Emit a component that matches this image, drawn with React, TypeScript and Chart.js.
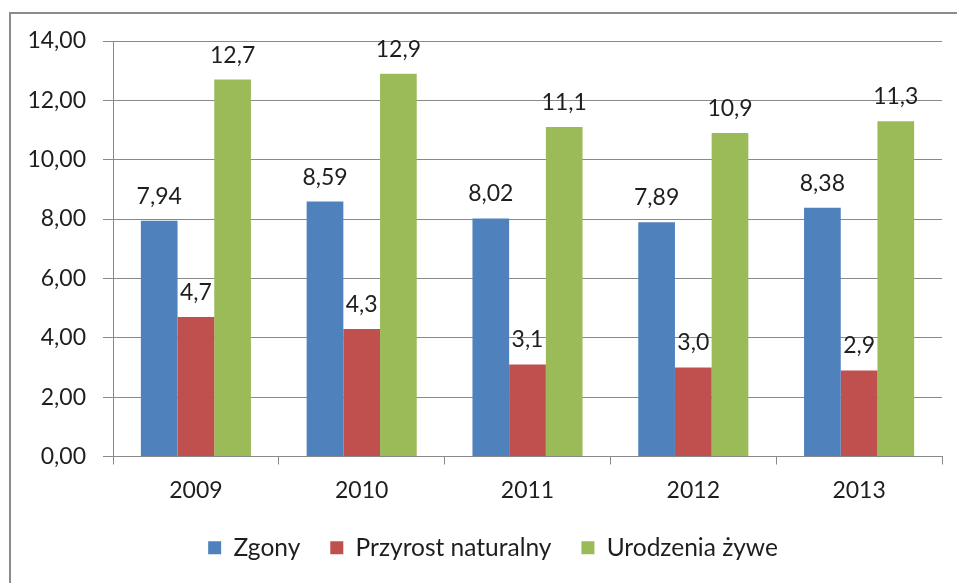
import React, { useEffect, useRef } from "react";
import { Chart, registerables } from "chart.js";

Chart.register(...registerables);

const categories = ["2009", "2010", "2011", "2012", "2013"];
const seriesNames = ["Zgony", "Przyrost naturalny", "Urodzenia żywe"];
const zgony = [7.94, 8.59, 8.02, 7.89, 8.38];
const przyrost = [4.7, 4.3, 3.1, 3.0, 2.9];
const urodzenia = [12.7, 12.9, 11.1, 10.9, 11.3];
const labelDecimals = [2, 1, 1];
const seriesColors = ["#4F81BD", "#C0504D", "#9BBB59"];
const yMin = 0;
const yMax = 14;
const yStep = 2;

const FONT = "Lato, 'Liberation Sans', sans-serif";
const TEXT = "#1e1e1e";
const GRID = "#8a8a8a";

const fmt = (v: number, d: number) => v.toFixed(d).replace(".", ",");

const framePlugin = {
  id: "frame",
  beforeDraw(chart: any) {
    const ctx = chart.ctx;
    ctx.save();
    ctx.fillStyle = "#ffffff";
    ctx.fillRect(0, 0, chart.width, chart.height);
    ctx.strokeStyle = "#8c8c8c";
    ctx.lineWidth = 2;
    ctx.strokeRect(10, 13, chart.width + 20, chart.height + 20);
    ctx.restore();
  },
};

const legendShiftPlugin = {
  id: "legendShift",
  afterLayout(chart: any) {
    if (chart.legend) {
      chart.legend.left += 22;
      chart.legend.right += 22;
    }
  },
};

const valueLabelPlugin = {
  id: "valueLabels",
  afterDatasetsDraw(chart: any) {
    const ctx = chart.ctx;
    ctx.save();
    ctx.font = `23px ${FONT}`;
    ctx.fillStyle = TEXT;
    ctx.textAlign = "center";
    ctx.textBaseline = "alphabetic";
    chart.data.datasets.forEach((ds: any, di: number) => {
      const meta = chart.getDatasetMeta(di);
      meta.data.forEach((bar: any, i: number) => {
        ctx.fillText(fmt(ds.data[i], labelDecimals[di]), bar.x, bar.y - 17);
      });
    });
    ctx.restore();
  },
};

export default function App() {
  const ref = useRef<HTMLCanvasElement | null>(null);
  useEffect(() => {
    document.body.style.margin = "0";
    const canvas = ref.current!;
    const chart = new Chart(canvas, {
      type: "bar",
      data: {
        labels: categories,
        datasets: [zgony, przyrost, urodzenia].map((d, i) => ({
          label: seriesNames[i],
          data: d,
          backgroundColor: seriesColors[i],
          borderWidth: 0,
          categoryPercentage: 0.664,
          barPercentage: 1,
        })),
      },
      options: {
        responsive: false,
        animation: false,
        devicePixelRatio: 1,
        layout: { padding: { top: 41, right: 15, left: 0, bottom: 13 } },
        plugins: {
          tooltip: { enabled: false },
          title: { display: false },
          legend: {
            position: "bottom",
            labels: {
              font: { family: FONT, size: 24.5 },
              color: TEXT,
              boxWidth: 13,
              boxHeight: 13,
              padding: 30,
            },
          },
        },
        scales: {
          x: {
            afterFit: (s: any) => {
              s.height = 49;
            },
            grid: {
              display: true,
              drawOnChartArea: false,
              drawTicks: true,
              tickLength: 8,
              color: GRID,
              offset: true,
            },
            border: { display: true, color: GRID, width: 1 },
            ticks: {
              font: { family: FONT, size: 23 },
              color: TEXT,
              padding: 12,
            },
          },
          y: {
            min: yMin,
            max: yMax,
            afterFit: (s: any) => {
              s.width = 113;
            },
            grid: {
              color: GRID,
              drawTicks: true,
              tickLength: 10,
            },
            border: { display: true, color: GRID, width: 1 },
            ticks: {
              stepSize: yStep,
              font: { family: FONT, size: 23 },
              color: TEXT,
              padding: 17,
              callback: (v: any) => fmt(Number(v), 2),
            },
          },
        },
      },
      plugins: [framePlugin, legendShiftPlugin, valueLabelPlugin],
    });
    return () => chart.destroy();
  }, []);
  return (
    <div style={{ position: "absolute", left: 0, top: 0, width: 957, height: 583 }}>
      <canvas ref={ref} width={957} height={583} style={{ width: 957, height: 583, display: "block" }} />
    </div>
  );
}
